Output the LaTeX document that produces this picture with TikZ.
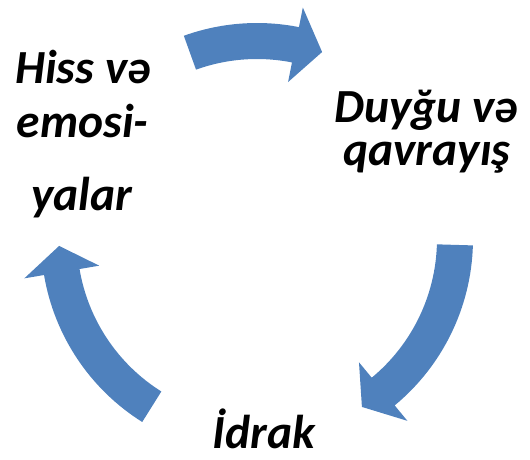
\documentclass[tikz,border=0pt]{standalone}
\usepackage{fontspec}
\setmainfont{Carlito}
\definecolor{arrowblue}{HTML}{4F81BD}
\tikzset{
  cyclearrow/.style={fill=arrowblue, draw=none},
  lbl/.style={anchor=base, inner sep=0pt, font=\fontsize{47.5}{56}\selectfont\bfseries\itshape, text=black}
}
% #1 tail angle, #2 head base angle, #3 tip angle
\newcommand{\cyclearr}[3]{%
  \fill[cyclearrow] (#1:216) arc[start angle=#1, end angle=#2, radius=216]
    -- (#2:236) -- (#3:198) -- (#2:160) -- (#2:180)
    arc[start angle=#2, end angle=#1, radius=180] -- cycle;}
\begin{document}
\begin{tikzpicture}[x=1pt,y=1pt]
\useasboundingbox (-257,-220) rectangle (273,239);
\cyclearr{109.8}{78.8}{70.8}
\cyclearr{-1.7}{-50.4}{-58}
\cyclearr{237.9}{189.6}{182}
\node[lbl] (hiss) at (-174,156) {Hiss və};
\node[lbl] (emosi) at (-174.5,102) {emosi-};
\node[lbl] (yalar) at (-175.5,29) {yalar};
\node[lbl] (duygu) at (169,117) {Duyğu və};
\node[lbl] (qavr) at (170,74) {qavrayış};
\node[lbl] (idrak) at (7,-209) {İdrak};
\end{tikzpicture}
\end{document}
